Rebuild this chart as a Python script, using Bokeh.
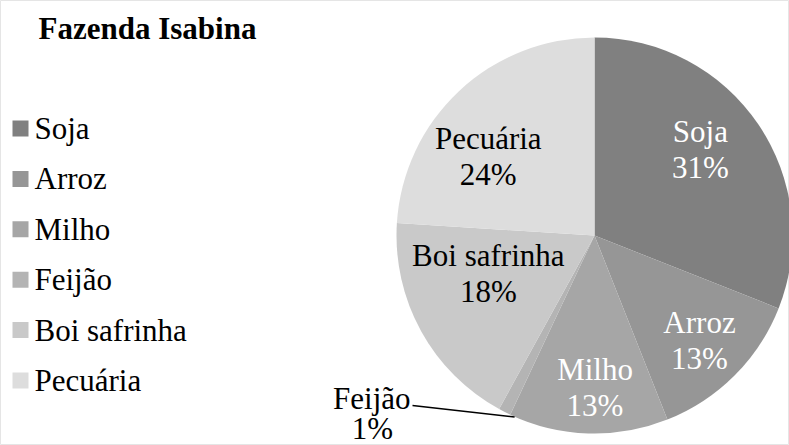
import math
from bokeh.plotting import figure
from bokeh.models import Range1d
from bokeh.core.properties import value
from bokeh.embed import file_html
from bokeh.resources import INLINE

# ---- data ----
categories = ["Soja", "Arroz", "Milho", "Feijão", "Boi safrinha", "Pecuária"]
percents = [31, 13, 13, 1, 18, 24]
colors = ["#808080", "#969696", "#a6a6a6", "#b4b4b4", "#c9c9c9", "#dddddd"]
label_colors = ["white", "white", "white", "black", "black", "black"]
title_text = "Fazenda Isabina"

# ---- layout ----
W, H = 789, 445
CX, CY, R = 594, 210, 198
F = "Liberation Serif"
label_layout = [(0.69, 5), (0.75, 0), (0.77, 2), None, (0.57, -9), (0.67, 10)]

p = figure(width=W, height=H, x_range=Range1d(0, W), y_range=Range1d(0, H),
           output_backend="svg", toolbar_location=None, min_border=0)
p.axis.visible = False
p.grid.visible = False

# title
p.text(x=[38], y=[H - 28], text=[title_text], text_font=value(F), text_font_size="31px",
       text_baseline="middle", text_font_style="bold", text_color="black")

# legend
ys = [H - 128 - k * 50.4 for k in range(len(categories))]
for k, cat in enumerate(categories):
    p.text(x=[34], y=[ys[k]], text=[cat], text_font=value(F), text_font_size="31px",
           text_baseline="middle", text_color="black")

total = sum(percents)
starts, ends, mids = [], [], []
acc = 0.0
for v in percents:
    a0 = math.pi / 2 - 2 * math.pi * acc / total
    acc += v
    a1 = math.pi / 2 - 2 * math.pi * acc / total
    starts.append(a0)
    ends.append(a1)
    mids.append((a0 + a1) / 2)

p.wedge(x=[CX] * len(percents), y=[CY] * len(percents), radius=R, radius_units="screen",
        start_angle=starts, end_angle=ends, direction="clock",
        fill_color=colors, line_color=None)

p.scatter(x=[20] * len(categories), y=ys, marker="square", size=16,
          fill_color=colors, line_color=None)

# slice labels
for i, cat in enumerate(categories):
    lay = label_layout[i]
    if lay is None:
        continue
    frac, nudge = lay
    ang = mids[i] + math.radians(nudge)
    lx = CX + frac * R * math.cos(ang)
    ly = CY + frac * R * math.sin(ang)
    p.text(x=[lx], y=[ly + 18], text=[cat], text_font=value(F), text_font_size="31px",
           text_baseline="middle", text_align="center", text_color=label_colors[i])
    p.text(x=[lx], y=[ly - 18], text=[f"{percents[i]}%"], text_font=value(F),
           text_font_size="31px", text_baseline="middle", text_align="center",
           text_color=label_colors[i])

# Feijão outside label with leader line
fi = 3
ex = CX + R * math.cos(mids[fi]) + 10
ey = CY + R * math.sin(mids[fi]) - 5
p.segment(x0=[ex], y0=[ey], x1=[412], y1=[H - 405], line_color="black", line_width=1.5)
p.text(x=[410], y=[H - 398], text=[categories[fi]], text_font=value(F), text_font_size="31px",
       text_baseline="middle", text_align="right", text_color="black")
p.text(x=[372], y=[H - 428], text=[f"{percents[fi]}%"], text_font=value(F),
       text_font_size="31px", text_baseline="middle", text_align="center", text_color="black")

open("out.html", "w").write(file_html(p, INLINE))
